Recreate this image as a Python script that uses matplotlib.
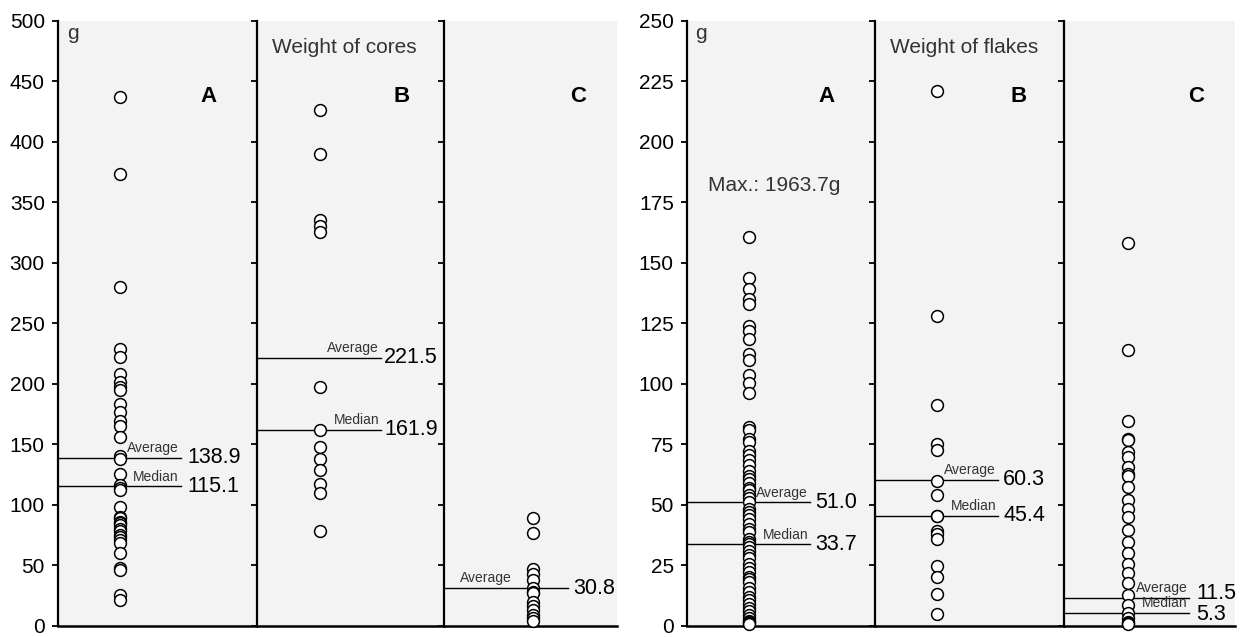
import matplotlib
matplotlib.use("Agg")
import matplotlib.pyplot as plt

plt.rcParams["font.family"] = ["Liberation Sans", "DejaVu Sans"]

# Weight of cores, g
cores_a = [437, 373, 280, 229, 222, 208, 201, 197, 195, 183, 177, 169, 165,
           156, 140, 138, 125, 116, 114, 112, 98, 90, 89, 86, 85, 83, 80, 78,
           75, 73, 71, 68, 60, 48, 46, 25, 21]
cores_b = [426, 390, 335, 330, 325, 197, 162, 148, 138, 129, 117, 110, 78]
cores_c = [89, 77, 47, 43, 38, 31, 28, 27, 20, 16, 13, 9, 6, 4]
cores_avg = [138.9, 221.5, 30.8]
cores_median = [115.1, 161.9, None]

# Weight of flakes, g
flakes_a = [160.5, 143.7, 139.2, 135, 133, 123.7, 121.8, 118.6, 112.1, 109.6,
            103.4, 100.3, 96.1, 82.1, 80.7, 77, 76, 72, 70.4, 68.4, 66.3, 64,
            62, 60.8, 59, 57, 56, 54, 52.6, 51, 48.4, 47, 45.7, 44, 42.2, 40,
            38.8, 36, 34.7, 33.7, 32.6, 31, 29.2, 28, 25.7, 24, 22.3, 20,
            19.5, 18, 15.4, 14, 12, 10.6, 9, 7.2, 6, 4.4, 3, 2, 1.5, 1, 0.5]
flakes_b = [221, 128, 91, 75, 72.5, 60, 54, 45.5, 45.4, 39, 38, 36, 24.5, 20,
            13, 5]
flakes_c = [158.2, 113.8, 84.5, 77.3, 76.6, 71.8, 69.7, 65.6, 62.6, 61.8,
            57.4, 51.9, 48.4, 45, 39.5, 34.7, 29.9, 25.7, 21.6, 17.5, 12.7,
            8.5, 5.1, 3, 1.7, 1, 0.5]
flakes_avg = [51.0, 60.3, 11.5]
flakes_median = [33.7, 45.4, 5.3]
flakes_max_a = 1963.7

panel_names = ["A", "B", "C"]

W, H = 1241, 637
fig = plt.figure(figsize=(W / 100, H / 100), dpi=100)

BG = "#f3f3f3"
GREY_TXT = "#333333"


def add_axes(x0, x1, y_top=20.7, y_bot=625.7):
    return fig.add_axes([x0 / W, 1 - y_bot / H, (x1 - x0) / W, (y_bot - y_top) / H])


def draw_group(edges, series, avgs, medians, ymax, step, title, point_x,
               line_end, value_x, label_x, value_shift):
    axes = []
    for i in range(3):
        ax = add_axes(edges[i], edges[i + 1])
        ax.set_facecolor(BG)
        ax.set_xlim(0, 1)
        ax.set_ylim(0, ymax)
        ax.set_yticks(range(0, ymax + 1, step))
        ax.set_xticks([])
        for s in ("top", "right"):
            ax.spines[s].set_visible(False)
        ax.spines["left"].set_linewidth(1.6)
        ax.spines["bottom"].set_linewidth(1.8)
        ax.tick_params(axis="y", direction="out", length=4.5, width=1.3,
                       labelsize=15, pad=5)
        if i > 0:
            ax.tick_params(axis="y", labelleft=False)

        vals = series[i]
        ax.plot([point_x[i]] * len(vals), vals, "o", ms=8.5, mfc="white",
                mec="black", mew=1.1, clip_on=False, zorder=3)

        ax.text(label_x[i], 0.875, panel_names[i], transform=ax.transAxes,
                fontsize=16, fontweight="bold", ha="center", va="center")

        entries = [("Average", avgs[i]), ("Median", medians[i])]
        for k, (name, v) in enumerate(entries):
            if v is None:
                continue
            ax.plot([0, line_end[i]], [v, v], color="black", lw=1.0, zorder=2)
            if i == 2 and medians[i] is None:
                ax.text(0.09, v + ymax * 0.006, name, fontsize=10,
                        color=GREY_TXT, ha="left", va="bottom")
            else:
                ax.text(line_end[i] - 0.01, v + ymax * 0.004, name,
                        fontsize=10, color=GREY_TXT, ha="right", va="bottom")
            ax.text(value_x[i], v + value_shift[i][k], f"{v:.1f}",
                    fontsize=15.5, ha="left", va="center")
        axes.append(ax)

    axes[0].text(0.045, 0.995, "g", transform=axes[0].transAxes, fontsize=15,
                 color=GREY_TXT, ha="left", va="top")
    axes[1].text(0.08, 0.955, title, transform=axes[1].transAxes, fontsize=15,
                 color=GREY_TXT, ha="left", va="center")
    return axes


draw_group([58, 257, 444, 617], [cores_a, cores_b, cores_c], cores_avg,
           cores_median, 500, 50, "Weight of cores",
           point_x=[0.31, 0.337, 0.516], line_end=[0.616, 0.663, 0.717],
           value_x=[0.65, 0.68, 0.746], label_x=[0.754, 0.774, 0.775],
           value_shift=[(0, 0), (0, 0), (0, 0)])

fl_axes = draw_group([687, 875, 1064, 1235], [flakes_a, flakes_b, flakes_c],
                     flakes_avg, flakes_median, 250, 25, "Weight of flakes",
                     point_x=[0.33, 0.33, 0.374], line_end=[0.654, 0.651, 0.731],
                     value_x=[0.683, 0.678, 0.772], label_x=[0.74, 0.762, 0.772],
                     value_shift=[(0, 0), (0, 0), (2.0, -0.8)])

fl_axes[0].text(0.11, 0.728, f"Max.: {flakes_max_a:.1f}g",
                transform=fl_axes[0].transAxes, fontsize=15, color=GREY_TXT,
                ha="left", va="center")

fig.savefig("out.png", dpi=100)
